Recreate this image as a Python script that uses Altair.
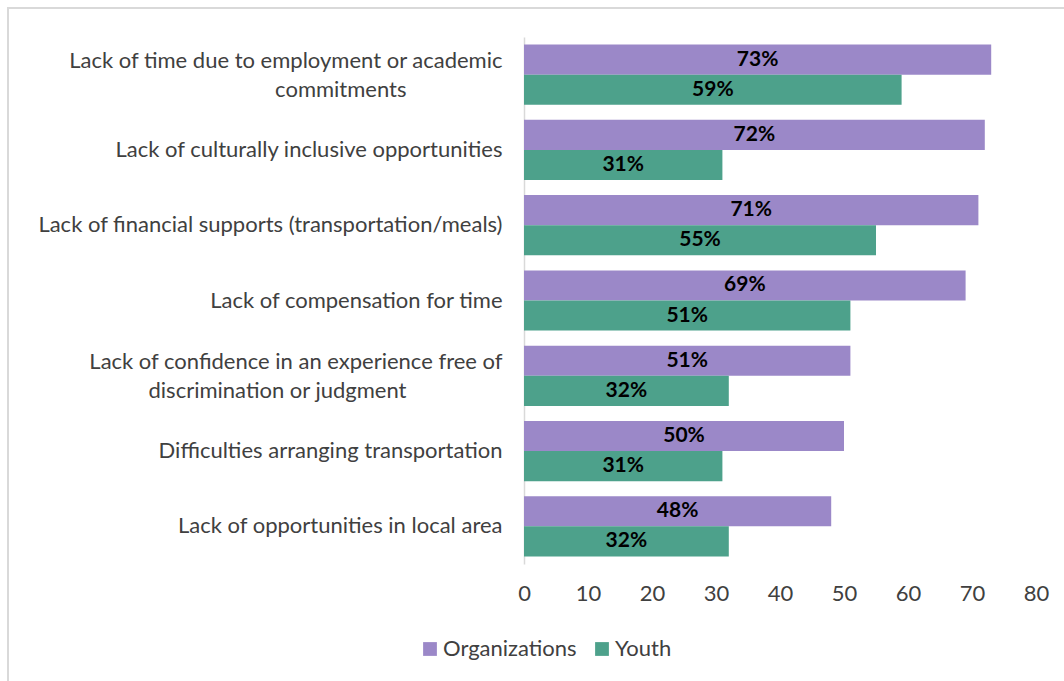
import altair as alt
import pandas as pd

PAD = "\u2800"
categories = [
    "Lack of time due to employment or academic|commitments",
    "Lack of culturally inclusive opportunities",
    "Lack of financial supports (transportation/meals)",
    "Lack of compensation for time",
    "Lack of confidence in an experience free of|discrimination or judgment",
    "Difficulties arranging transportation",
    "Lack of opportunities in local area",
]
organizations = [73, 72, 71, 69, 51, 50, 48]
youth = [59, 31, 55, 51, 32, 31, 32]
series = ["Organizations", "Youth"]
colors = ["#9B88C8", "#4DA18B"]

rows = []
for c, o, y in zip(categories, organizations, youth):
    rows.append({"cat": c, "series": "Organizations", "value": o})
    rows.append({"cat": c, "series": "Youth", "value": y})
df = pd.DataFrame(rows)

FONT = "Lato"
FS = 22
W, H = 512, 527
LEFT, TOP = 524, 37

label_expr = (
    "indexof(datum.label, '|') >= 0 ? "
    "[split(datum.label, '|')[0], split(datum.label, '|')[1] + '" + PAD * 6 + "'] "
    ": datum.label"
)

y_enc = alt.Y(
    "cat:N",
    sort=categories,
    title=None,
    scale=alt.Scale(paddingInner=0.2, paddingOuter=0.1),
    axis=alt.Axis(
        labelExpr=label_expr,
        labelFont=FONT,
        labelFontSize=FS,
        labelColor="#404040",
        labelPadding=22,
        labelLimit=700,
        labelLineHeight=29,
        labelOffset={"condition": {"test": "indexof(datum.value, '|') >= 0", "value": -14}, "value": 0},
        ticks=False,
        domainColor="#D9D9D9",
        domainWidth=1.5,
    ),
)
yoff = alt.YOffset("series:N", sort=series)

base = alt.Chart(df)

bars = base.mark_bar().encode(
    y=y_enc,
    yOffset=yoff,
    x=alt.X(
        "value:Q",
        title=None,
        scale=alt.Scale(domain=[0, 80], nice=False),
        axis=alt.Axis(
            values=[0, 10, 20, 30, 40, 50, 60, 70, 80],
            grid=False,
            ticks=False,
            domain=False,
            labelFlush=False,
            labelOverlap=False,
            labelFont=FONT,
            labelFontSize=FS,
            labelColor="#404040",
            labelPadding=19,
        ),
    ),
    color=alt.Color(
        "series:N",
        sort=series,
        scale=alt.Scale(domain=series, range=colors),
        legend=alt.Legend(
            title=None,
            orient="none",
            direction="horizontal",
            legendX=-105,
            legendY=601,
            symbolType="square",
            symbolSize=190,
            symbolStrokeWidth=0,
            labelFont=FONT,
            labelFontSize=FS,
            labelColor="#404040",
            columnPadding=14,
            symbolOffset=0,
            labelOffset=2,
        ),
    ),
)

texts = base.transform_calculate(
    mid="datum.value / 2", lab="datum.value + '%'"
).mark_text(
    font=FONT, fontSize=21, fontWeight="bold", color="#000000", baseline="middle", align="center"
).encode(
    y=alt.Y("cat:N", sort=categories),
    yOffset=yoff,
    x=alt.X("mid:Q"),
    text="lab:N",
)

border = alt.Chart(pd.DataFrame({"a": [0]})).mark_rect(
    fill=None, stroke="#D9D9D9", strokeWidth=2, clip=False
).encode(
    x=alt.value(8 - LEFT),
    x2=alt.value(1100 - LEFT),
    y=alt.value(8 - TOP),
    y2=alt.value(720 - TOP),
)

chart = alt.layer(border, bars, texts).properties(
    width=W,
    height=H,
    padding={"left": LEFT, "top": TOP, "right": 1064 - LEFT - W, "bottom": 681 - TOP - H},
    autosize=alt.AutoSizeParams(type="none"),
    background="white",
).configure_view(stroke=None)

chart.save("out.html", embed_options={"renderer": "svg", "actions": False})
